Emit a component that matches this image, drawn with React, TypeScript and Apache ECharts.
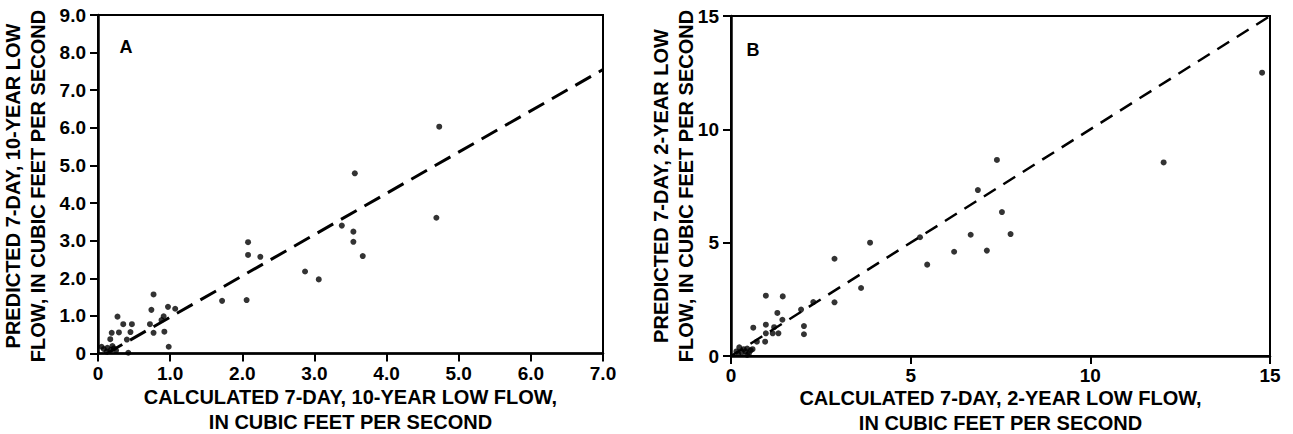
import React, { useEffect, useRef } from "react";
import * as echarts from "echarts";

// Panel A: 7-day, 10-year low flow (calculated vs predicted), cubic feet per second
const pointsA: [number, number][] = [
  [4.73, 6.03], [3.56, 4.79], [4.69, 3.61], [3.38, 3.4], [3.54, 3.24], [3.54, 2.97],
  [3.67, 2.59], [2.87, 2.18], [3.06, 1.97], [2.08, 2.96], [2.08, 2.62], [2.25, 2.57],
  [1.72, 1.4], [2.06, 1.42], [0.98, 0.18], [0.77, 1.57], [0.74, 1.16], [0.97, 1.24],
  [1.07, 1.19], [0.91, 0.99], [0.88, 0.89], [0.72, 0.78], [0.77, 0.55], [0.92, 0.58],
  [0.27, 0.98], [0.35, 0.78], [0.47, 0.78], [0.29, 0.56], [0.19, 0.55], [0.45, 0.57],
  [0.4, 0.37], [0.17, 0.38], [0.42, 0.02], [0.08, 0.12], [0.13, 0.15], [0.18, 0.1],
  [0.22, 0.14], [0.12, 0.05], [0.25, 0.08], [0.05, 0.18], [0.2, 0.2],
];
const fitLineA: [number, number][] = [[0.12, 0], [7, 7.55]];

// Panel B: 7-day, 2-year low flow
const pointsB: [number, number][] = [
  [14.78, 12.5], [12.04, 8.54], [7.4, 8.65], [6.87, 7.32], [7.54, 6.35], [7.78, 5.38],
  [6.67, 5.35], [7.12, 4.65], [6.21, 4.6], [5.46, 4.03], [5.26, 5.24], [3.87, 5.0],
  [2.88, 4.29], [3.62, 3.0], [2.88, 2.37], [2.29, 2.38], [1.95, 2.05], [2.03, 1.32],
  [2.03, 0.96], [0.97, 2.66], [1.44, 2.63], [1.29, 1.9], [1.43, 1.6], [0.62, 1.25],
  [0.97, 1.38], [1.2, 1.27], [0.97, 1.0], [1.16, 1.0], [1.32, 1.0], [0.72, 0.63],
  [0.95, 0.63], [0.23, 0.38], [0.35, 0.3], [0.45, 0.33], [0.3, 0.15], [0.4, 0.2],
  [0.5, 0.12], [0.2, 0.1], [0.55, 0.25], [0.6, 0.3], [0.15, 0.2], [0.45, 0.05],
];
const fitLineB: [number, number][] = [[0, 0], [15, 15]];

const xTitleA = ["CALCULATED 7-DAY, 10-YEAR LOW FLOW,", "IN CUBIC FEET PER SECOND"];
const yTitleA = ["PREDICTED 7-DAY, 10-YEAR LOW", "FLOW, IN CUBIC FEET PER SECOND"];
const xTitleB = ["CALCULATED 7-DAY, 2-YEAR LOW FLOW,", "IN CUBIC FEET PER SECOND"];
const yTitleB = ["PREDICTED 7-DAY, 2-YEAR LOW", "FLOW, IN CUBIC FEET PER SECOND"];

const FONT = "'Liberation Sans', Arial, sans-serif";

const fmtA = (v: number) => (v === 0 ? "0" : v.toFixed(1));
const fmtB = (v: number) => String(v);

function axis(gridIndex: number, min: number, max: number, interval: number, fmt: (v: number) => string, isX: boolean) {
  return {
    gridIndex,
    type: "value",
    min,
    max,
    interval,
    axisLine: { show: true, onZero: false, lineStyle: { color: "#000", width: 2.5 } },
    axisTick: { show: true, inside: false, length: 8, lineStyle: { color: "#000", width: 2 } },
    axisLabel: {
      color: "#000",
      fontSize: 19,
      lineHeight: 19,
      fontWeight: "bold",
      fontFamily: FONT,
      margin: isX ? 10 : 12,
      formatter: fmt,
    },
    splitLine: { show: false },
  };
}

function txt(x: number, y: number, text: string, rotate = false, size = 20) {
  return {
    type: "text",
    x,
    y,
    rotation: rotate ? Math.PI / 2 : 0,
    style: {
      text,
      fill: "#000",
      font: `bold ${size}px ${FONT}`,
      lineHeight: size,
      textAlign: "center",
      textVerticalAlign: "middle",
    },
  };
}

export default function App() {
  const ref = useRef<HTMLDivElement>(null);
  useEffect(() => {
    if (!ref.current) return;
    const chart = echarts.init(ref.current, undefined, { renderer: "svg" });
    const gA = { left: 98, top: 15, width: 505, height: 338.5 };
    const gB = { left: 731, top: 16, width: 539, height: 340 };
    chart.setOption({
      animation: false,
      backgroundColor: "#fff",
      grid: [
        { ...gA, show: true, borderColor: "#000", borderWidth: 2, backgroundColor: "transparent" },
        { ...gB, show: true, borderColor: "#000", borderWidth: 2, backgroundColor: "transparent" },
      ],
      xAxis: [axis(0, 0, 7, 1, fmtA, true), axis(1, 0, 15, 5, fmtB, true)],
      yAxis: [axis(0, 0, 9, 1, fmtA, false), axis(1, 0, 15, 5, fmtB, false)],
      series: [
        {
          type: "scatter", xAxisIndex: 0, yAxisIndex: 0, data: pointsA,
          symbolSize: 6, itemStyle: { color: "#000" },
        },
        {
          type: "line", xAxisIndex: 0, yAxisIndex: 0, data: fitLineA, symbol: "none",
          lineStyle: { color: "#000", width: 3, type: [18, 9] },
        },
        {
          type: "scatter", xAxisIndex: 1, yAxisIndex: 1, data: pointsB,
          symbolSize: 6, itemStyle: { color: "#000" },
        },
        {
          type: "line", xAxisIndex: 1, yAxisIndex: 1, data: fitLineB, symbol: "none",
          lineStyle: { color: "#000", width: 2.5, type: [14, 9] },
        },
      ],
      graphic: [
        txt(350.5, 397, xTitleA[0]),
        txt(350.5, 422, xTitleA[1]),
        txt(1000.5, 398, xTitleB[0]),
        txt(1000.5, 423, xTitleB[1]),
        txt(13, 186, yTitleA[0], true),
        txt(38, 186, yTitleA[1], true),
        txt(661, 186, yTitleB[0], true),
        txt(686, 186, yTitleB[1], true),
        txt(126, 47, "A", false, 18),
        txt(753, 50, "B", false, 18),
      ],
    });
    return () => chart.dispose();
  }, []);
  return (
    <div
      ref={ref}
      style={{ position: "fixed", left: 0, top: 0, width: 1293, height: 434, background: "#fff" }}
    />
  );
}
